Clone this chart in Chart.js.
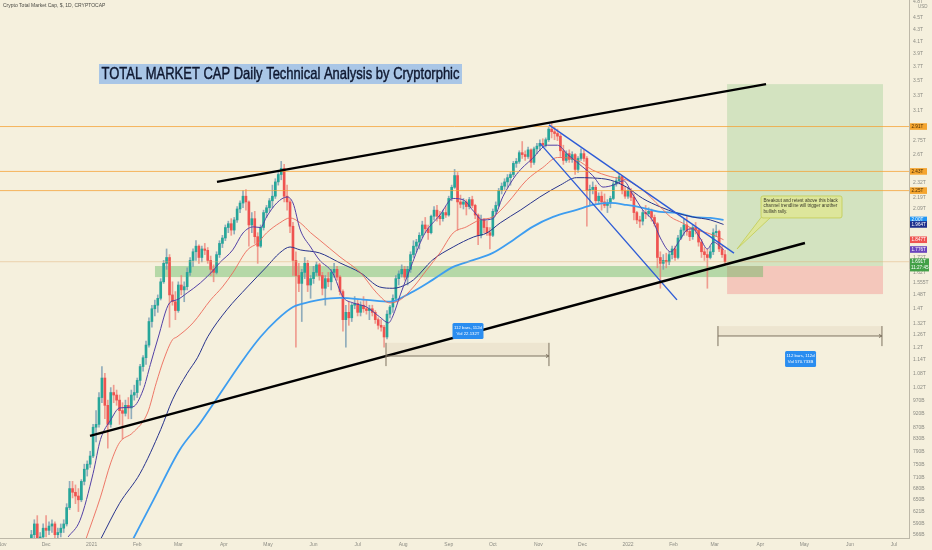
<!DOCTYPE html>
<html>
<head>
<meta charset="utf-8">
<title>TOTAL MARKET CAP Daily Technical Analysis by Cryptorphic</title>
<script src="https://cdn.jsdelivr.net/npm/chart.js@4.4.1/dist/chart.umd.min.js"></script>
<style>
  html, body { margin: 0; padding: 0; background: #f5f0dd; }
  canvas { display: block; }
</style>
</head>
<body>
<canvas id="chart" width="932" height="550"></canvas>
<script>
// TOTAL crypto market cap, one candle per 2 days, values in billions of USD
// day numbers count from 1 Nov 2020
const firstDay = 20
const dayStep = 2

const opens = [
  540, 565, 590, 545, 560, 580, 575, 585, 590, 565,
  570, 580, 590, 630, 680, 670, 660, 650, 700, 735,
  750, 775, 870, 880, 980, 1060, 950, 880, 1000, 990,
  970, 930, 920, 950, 940, 990, 1000, 1050, 1110, 1150,
  1210, 1330, 1400, 1420, 1460, 1560, 1680, 1720, 1480, 1440,
  1390, 1540, 1510, 1530, 1620, 1700, 1760, 1800, 1720, 1780,
  1770, 1700, 1640, 1620, 1740, 1820, 1860, 1940, 1970, 1920,
  2000, 2090, 2140, 2200, 2150, 1960, 2010, 1870, 1800, 1940,
  2060, 2100, 2160, 2200, 2330, 2400, 2460, 2200, 2150, 1950,
  1700, 1600, 1550, 1620, 1680, 1540, 1580, 1620, 1670, 1600,
  1520, 1580, 1560, 1620, 1640, 1590, 1500, 1340, 1380, 1350,
  1420, 1430, 1380, 1420, 1400, 1390, 1400, 1380, 1340, 1310,
  1300, 1250, 1370, 1410, 1460, 1580, 1610, 1640, 1590, 1640,
  1740, 1800, 1830, 1880, 1960, 1930, 1900, 2030, 2080, 2030,
  2010, 2060, 2040, 2180, 2280, 2390, 2150, 2130, 2150, 2110,
  2170, 2120, 2040, 1880, 2000, 1940, 1900, 1880, 2070, 2120,
  2250, 2290, 2330, 2370, 2400, 2510, 2530, 2620, 2600, 2580,
  2650, 2520, 2660, 2690, 2720, 2700, 2760, 2880, 2850, 2830,
  2800, 2640, 2540, 2610, 2550, 2600, 2450, 2560, 2610, 2560,
  2250, 2260, 2280, 2160, 2200, 2150, 2120, 2140, 2180, 2310,
  2340, 2380, 2250, 2200, 2250, 2190, 2060, 2000, 1990, 2060,
  2050, 2070, 2020, 1970, 1720, 1680, 1700, 1690, 1740, 1780,
  1720, 1860, 1920, 1960, 1910, 1870, 1940, 1920, 1830, 1760,
  1740, 1720, 1760, 1900, 1910, 1780, 1740
]
const highs = [
  575, 600, 610, 570, 590, 610, 595, 600, 595, 580,
  590, 600, 640, 700, 700, 690, 680, 705, 750, 760,
  790, 880, 930, 1000, 1110, 1080, 970, 1020, 1030, 1010,
  990, 960, 970, 980, 1010, 1030, 1060, 1120, 1160, 1230,
  1350, 1420, 1450, 1480, 1580, 1700, 1780, 1740, 1560, 1500,
  1560, 1600, 1560, 1650, 1720, 1780, 1840, 1810, 1800, 1820,
  1790, 1730, 1670, 1760, 1840, 1880, 1960, 1990, 2010, 2020,
  2110, 2160, 2250, 2260, 2160, 2060, 2070, 1900, 1960, 2080,
  2120, 2180, 2300, 2360, 2420, 2530, 2500, 2300, 2170, 1980,
  1760, 1680, 1640, 1720, 1700, 1600, 1660, 1690, 1680, 1620,
  1600, 1620, 1640, 1680, 1660, 1600, 1510, 1420, 1440, 1430,
  1470, 1450, 1440, 1470, 1450, 1420, 1420, 1390, 1350, 1340,
  1310, 1390, 1420, 1480, 1600, 1630, 1670, 1660, 1660, 1760,
  1840, 1850, 1900, 1990, 2020, 1960, 2040, 2110, 2120, 2070,
  2080, 2110, 2200, 2300, 2450, 2420, 2210, 2180, 2170, 2190,
  2200, 2130, 2050, 2040, 2010, 1990, 1940, 2090, 2150, 2270,
  2320, 2360, 2400, 2420, 2530, 2560, 2640, 2740, 2640, 2680,
  2660, 2680, 2720, 2760, 2770, 2780, 2900, 2960, 2900, 2880,
  2820, 2700, 2640, 2650, 2630, 2610, 2580, 2660, 2650, 2580,
  2300, 2330, 2300, 2230, 2240, 2220, 2170, 2200, 2330, 2370,
  2410, 2390, 2290, 2280, 2270, 2220, 2070, 2030, 2080, 2120,
  2100, 2090, 2040, 1980, 1760, 1740, 1750, 1760, 1800, 1800,
  1880, 1940, 2010, 2030, 1940, 1960, 1980, 1930, 1850, 1790,
  1780, 1800, 1930, 1960, 1920, 1800, 1770
]
const lows = [
  530, 555, 530, 520, 550, 560, 565, 570, 555, 545,
  560, 570, 585, 625, 655, 640, 620, 645, 690, 715,
  740, 770, 820, 870, 960, 900, 800, 870, 960, 950,
  880, 830, 910, 900, 900, 970, 980, 1030, 1090, 1120,
  1200, 1300, 1360, 1380, 1450, 1550, 1640, 1300, 1420, 1340,
  1380, 1480, 1440, 1510, 1600, 1660, 1700, 1680, 1690, 1740,
  1680, 1600, 1560, 1610, 1720, 1790, 1840, 1900, 1880, 1890,
  1980, 2060, 2100, 2080, 1800, 1900, 1820, 1680, 1790, 1920,
  2020, 2070, 2100, 2180, 2300, 2350, 2150, 2080, 1900, 1600,
  1200, 1500, 1330, 1580, 1500, 1460, 1550, 1600, 1570, 1480,
  1420, 1530, 1510, 1590, 1570, 1480, 1280, 1200, 1310, 1330,
  1400, 1360, 1360, 1380, 1370, 1340, 1360, 1320, 1290, 1280,
  1200, 1240, 1350, 1380, 1440, 1540, 1590, 1570, 1540, 1620,
  1720, 1760, 1780, 1860, 1900, 1850, 1890, 2000, 1990, 1960,
  1990, 2020, 2030, 2160, 2270, 1920, 2100, 2090, 2040, 2090,
  2100, 2010, 1810, 1860, 1900, 1880, 1780, 1870, 2050, 2110,
  2220, 2260, 2280, 2300, 2380, 2470, 2510, 2560, 2540, 2560,
  2470, 2500, 2610, 2640, 2680, 2680, 2740, 2780, 2760, 2750,
  2580, 2500, 2520, 2520, 2520, 2400, 2420, 2540, 2530, 1950,
  2120, 2220, 2130, 2130, 2080, 2100, 2060, 2100, 2170, 2290,
  2310, 2220, 2180, 2180, 2160, 2000, 1970, 1940, 1960, 2010,
  2030, 1990, 1950, 1650, 1520, 1640, 1650, 1670, 1710, 1700,
  1710, 1850, 1880, 1880, 1840, 1850, 1890, 1800, 1720, 1700,
  1520, 1710, 1740, 1870, 1760, 1720, 1680
]
const closes = [
  565, 590, 545, 560, 580, 575, 585, 590, 565, 570,
  580, 590, 630, 680, 670, 660, 650, 700, 735, 750,
  775, 870, 880, 980, 1060, 950, 880, 1000, 990, 970,
  930, 920, 950, 940, 990, 1000, 1050, 1110, 1150, 1210,
  1330, 1400, 1420, 1460, 1560, 1680, 1720, 1480, 1440, 1390,
  1540, 1510, 1530, 1620, 1700, 1760, 1800, 1720, 1780, 1770,
  1700, 1640, 1620, 1740, 1820, 1860, 1940, 1970, 1920, 2000,
  2090, 2140, 2200, 2150, 1960, 2010, 1870, 1800, 1940, 2060,
  2100, 2160, 2200, 2330, 2400, 2460, 2200, 2150, 1950, 1700,
  1600, 1550, 1620, 1680, 1540, 1580, 1620, 1670, 1600, 1520,
  1580, 1560, 1620, 1640, 1590, 1500, 1340, 1380, 1350, 1420,
  1430, 1380, 1420, 1400, 1390, 1400, 1380, 1340, 1310, 1300,
  1250, 1370, 1410, 1460, 1580, 1610, 1640, 1590, 1640, 1740,
  1800, 1830, 1880, 1960, 1930, 1900, 2030, 2080, 2030, 2010,
  2060, 2040, 2180, 2280, 2390, 2150, 2130, 2150, 2110, 2170,
  2120, 2040, 1880, 2000, 1940, 1900, 1880, 2070, 2120, 2250,
  2290, 2330, 2370, 2400, 2510, 2530, 2620, 2600, 2580, 2650,
  2520, 2660, 2690, 2720, 2700, 2760, 2880, 2850, 2830, 2800,
  2640, 2540, 2610, 2550, 2600, 2450, 2560, 2610, 2560, 2250,
  2260, 2280, 2160, 2200, 2150, 2120, 2140, 2180, 2310, 2340,
  2380, 2250, 2200, 2250, 2190, 2060, 2000, 1990, 2060, 2050,
  2070, 2020, 1970, 1720, 1680, 1700, 1690, 1740, 1780, 1720,
  1860, 1920, 1960, 1910, 1870, 1940, 1920, 1830, 1760, 1740,
  1720, 1760, 1900, 1910, 1780, 1740, 1691
]
const candleDays = closes.map((_, i) => firstDay + i * dayStep)

// moving averages (day, value)
const maFastDays = [45, 53, 62, 67, 74, 80, 89, 96, 101, 106, 114, 119, 126, 135, 144, 148, 157, 164, 171, 176, 180, 187, 194, 198, 203, 210, 216, 225, 232, 239, 248, 257, 263, 266, 271, 278, 287, 298, 307, 314, 321, 327, 334, 341, 350, 361, 371, 378, 385, 393, 402, 409, 416, 423, 429, 436, 443, 448, 455, 461, 466, 470, 475, 480, 484, 491]
const maFastValues = [560, 598, 723, 828, 896, 940, 944, 1010, 1120, 1240, 1433, 1451, 1492, 1553, 1636, 1683, 1773, 1898, 1945, 1940, 2024, 2141, 2193, 2141, 1921, 1794, 1703, 1617, 1468, 1433, 1410, 1355, 1323, 1360, 1480, 1650, 1880, 2040, 2180, 2167, 2070, 2000, 2010, 2200, 2400, 2560, 2700, 2700, 2600, 2500, 2390, 2282, 2300, 2340, 2220, 2082, 1990, 1860, 1760, 1840, 1920, 1930, 1860, 1780, 1830, 1776]

const maMidDays = [57, 67, 74, 80, 89, 99, 105, 110, 116, 119, 130, 142, 150, 157, 167, 174, 180, 189, 196, 203, 210, 216, 230, 244, 255, 264, 271, 280, 289, 298, 307, 316, 325, 334, 344, 357, 368, 378, 391, 402, 414, 425, 436, 448, 455, 463, 470, 480, 487, 491]
const maMidValues = [554, 657, 754, 818, 851, 921, 1040, 1140, 1236, 1250, 1323, 1451, 1528, 1617, 1773, 1823, 1898, 1976, 2016, 1976, 1900, 1846, 1724, 1617, 1492, 1433, 1451, 1528, 1636, 1752, 1898, 1945, 2000, 2024, 2141, 2347, 2468, 2570, 2544, 2443, 2380, 2347, 2255, 2107, 2024, 1976, 1930, 1898, 1868, 1847]

const maSlowDays = [67, 80, 94, 108, 116, 126, 133, 140, 153, 167, 180, 189, 196, 203, 216, 230, 244, 257, 266, 271, 280, 293, 307, 321, 330, 339, 353, 366, 380, 391, 402, 414, 425, 436, 448, 459, 470, 482, 491]
const maSlowValues = [554, 641, 723, 862, 971, 1080, 1150, 1251, 1394, 1528, 1656, 1752, 1794, 1773, 1752, 1683, 1617, 1528, 1520, 1528, 1572, 1703, 1794, 1868, 1898, 1976, 2082, 2193, 2301, 2370, 2367, 2347, 2282, 2180, 2107, 2057, 2024, 2000, 1964]

const ma200Days = [89, 103, 121, 135, 164, 176, 187, 198, 210, 216, 230, 248, 264, 278, 293, 307, 321, 334, 348, 361, 375, 391, 402, 414, 425, 436, 448, 459, 470, 482, 491]
const ma200Values = [554, 649, 795, 886, 1140, 1251, 1339, 1410, 1440, 1451, 1462, 1451, 1440, 1492, 1572, 1656, 1703, 1752, 1846, 1945, 2024, 2082, 2124, 2141, 2124, 2100, 2065, 2057, 2024, 2016, 2000]

// price axis ticks
const yTickValues = [4800, 4500, 4300, 4100, 3900, 3700, 3500, 3300, 3100, 2750, 2600, 2320, 2190, 2090, 1720, 1620, 1555, 1480, 1400, 1320, 1260, 1200, 1140, 1080, 1020, 970, 920, 870, 830, 790, 750, 710, 680, 650, 621, 590, 566]
const yTickLabels = ['4.8T', '4.5T', '4.3T', '4.1T', '3.9T', '3.7T', '3.5T', '3.3T', '3.1T', '2.75T', '2.6T', '2.32T', '2.19T', '2.09T', '1.72T', '1.62T', '1.555T', '1.48T', '1.4T', '1.32T', '1.26T', '1.2T', '1.14T', '1.08T', '1.02T', '970B', '920B', '870B', '830B', '790B', '750B', '710B', '680B', '650B', '621B', '590B', '566B']

// month ticks
const monthDays = [0, 30, 61, 92, 120, 151, 181, 212, 242, 273, 304, 334, 365, 395, 426, 457, 485, 516, 546, 577, 607]
const monthLabels = ['Nov', 'Dec', '2021', 'Feb', 'Mar', 'Apr', 'May', 'Jun', 'Jul', 'Aug', 'Sep', 'Oct', 'Nov', 'Dec', '2022', 'Feb', 'Mar', 'Apr', 'May', 'Jun', 'Jul']

// horizontal levels
const levelValues = [2910, 2430, 2250]
const levelLabels = ['2.91T', '2.43T', '2.25T']
const lastPrice = 1691

// drawings (day, value)
const upperChannelDays = [146.3, 519.9]
const upperChannelValues = [2330, 3450]
const lowerChannelDays = [59.9, 546.4]
const lowerChannelValues = [840, 1823]
const wedgeTopDays = [372.2, 498.1]
const wedgeTopValues = [2930, 1750]
const wedgeBottomDays = [366.1, 459.3]
const wedgeBottomValues = [2720, 1451]

const supportZone = { days: [104.1, 517.9], values: [1590, 1662] }
const longBox = { from: 493.4, to: 599.5, target: 3450, entry: 1662, stop: 1485 }
const measures = [
  { from: 261.3, to: 372.2, line: 1158, top: 1221, bottom: 1112, labelDay: 317.1, labelValue: 1280, text: ['112 bars, 112d', 'Vol 22.132T'] },
  { from: 487.2, to: 598.8, line: 1255, top: 1306, bottom: 1205, labelDay: 543.4, labelValue: 1144, text: ['112 bars, 112d', 'Vol 570.733B'] }
]
const callout = {
  day: 516.5, value: 2202, tipDay: 500.2, tipValue: 1780,
  text: ['Breakout and retest above this black', 'channel trendline will trigger another', 'bullish rally.']
}
const title = { day: 66, value: 3741, text: 'TOTAL MARKET CAP Daily Technical Analysis by Cryptorphic' }
const header = 'Crypto Total Market Cap, $, 1D, CRYPTOCAP'

const xMin = -1.36
const xMax = 617.2
const yMin = 557.6
const yMax = 4837

const UP = '#26a69a'
const DOWN = '#ef5350'
const FONT = '"Liberation Sans", Arial, sans-serif'

const isUp = i => closes[i] >= opens[i]
const pts = (days, values) => days.map((d, i) => ({ x: d, y: values[i] }))

const maLine = (label, days, values, color, width, order) => ({
  type: 'line', label, data: pts(days, values), borderColor: color, borderWidth: width,
  pointRadius: 0, tension: 0.4, cubicInterpolationMode: 'monotone', order
})
const straight = (label, days, values, color, width, order) => ({
  type: 'line', label, data: pts(days, values), borderColor: color, borderWidth: width,
  pointRadius: 0, tension: 0, order
})

function zone(chart, d0, d1, v0, v1, color) {
  const { x, y } = chart.scales
  const x0 = x.getPixelForValue(d0), x1 = x.getPixelForValue(d1)
  const y0 = y.getPixelForValue(v1), y1 = y.getPixelForValue(v0)
  chart.ctx.fillStyle = color
  chart.ctx.fillRect(x0, y0, x1 - x0, y1 - y0)
}

function roundRect(ctx, x, y, w, h, r) {
  ctx.beginPath()
  ctx.moveTo(x + r, y)
  ctx.arcTo(x + w, y, x + w, y + h, r)
  ctx.arcTo(x + w, y + h, x, y + h, r)
  ctx.arcTo(x, y + h, x, y, r)
  ctx.arcTo(x, y, x + w, y, r)
  ctx.closePath()
}

const drawings = {
  id: 'drawings',
  beforeDatasetsDraw(chart) {
    const { ctx, chartArea: a } = chart
    ctx.save()
    ctx.beginPath()
    ctx.rect(a.left, a.top, a.right - a.left, a.bottom - a.top)
    ctx.clip()
    zone(chart, longBox.from, longBox.to, longBox.entry, longBox.target, 'rgba(76,175,80,0.2)')
    zone(chart, longBox.from, longBox.to, longBox.stop, longBox.entry, 'rgba(242,54,69,0.22)')
    zone(chart, supportZone.days[0], supportZone.days[1], supportZone.values[0], supportZone.values[1], 'rgba(76,175,80,0.38)')
    measures.forEach(m => zone(chart, m.from, m.to, m.line, m.top, 'rgba(170,140,100,0.1)'))
    ctx.restore()
  },
  afterDatasetsDraw(chart) {
    const { ctx, scales: { x, y } } = chart
    ctx.save()

    // date range measurements
    measures.forEach(m => {
      const x0 = x.getPixelForValue(m.from), x1 = x.getPixelForValue(m.to)
      const yl = y.getPixelForValue(m.line)
      const yt = y.getPixelForValue(m.top), yb = y.getPixelForValue(m.bottom)
      ctx.strokeStyle = '#7d7260'
      ctx.lineWidth = 1
      ctx.beginPath()
      ctx.moveTo(x0, yl); ctx.lineTo(x1, yl)
      ctx.moveTo(x0, yt); ctx.lineTo(x0, yb)
      ctx.moveTo(x1, yt); ctx.lineTo(x1, yb)
      ctx.moveTo(x1 - 3, yl - 1.5); ctx.lineTo(x1, yl); ctx.lineTo(x1 - 3, yl + 1.5)
      ctx.stroke()
      const bx = x.getPixelForValue(m.labelDay), by = y.getPixelForValue(m.labelValue)
      ctx.fillStyle = '#2a8df0'
      roundRect(ctx, bx - 15.5, by - 8, 31, 16, 1.5)
      ctx.fill()
      ctx.fillStyle = '#ffffff'
      ctx.font = '4.3px ' + FONT
      ctx.textAlign = 'center'
      ctx.textBaseline = 'middle'
      ctx.fillText(m.text[0], bx, by - 3)
      ctx.fillText(m.text[1], bx, by + 3)
    })

    // callout
    const cx = x.getPixelForValue(callout.day), cy = y.getPixelForValue(callout.value)
    const tx = x.getPixelForValue(callout.tipDay), ty = y.getPixelForValue(callout.tipValue)
    ctx.fillStyle = '#dde69b'
    ctx.strokeStyle = '#c2cc52'
    ctx.lineWidth = 0.8
    ctx.beginPath()
    ctx.moveTo(cx + 2, cy + 19); ctx.lineTo(tx, ty); ctx.lineTo(cx + 9, cy + 22)
    ctx.closePath()
    ctx.fill(); ctx.stroke()
    roundRect(ctx, cx, cy, 81, 22, 2)
    ctx.fill(); ctx.stroke()
    ctx.fillStyle = '#3b3b2c'
    ctx.font = '4.6px ' + FONT
    ctx.textAlign = 'left'
    ctx.textBaseline = 'middle'
    callout.text.forEach((t, i) => ctx.fillText(t, cx + 2.5, cy + 4.5 + i * 5.5))

    // title
    const ttx = x.getPixelForValue(title.day), tty = y.getPixelForValue(title.value)
    ctx.fillStyle = '#a9c6e6'
    ctx.fillRect(ttx, tty, 363, 20)
    ctx.font = '17px "Liberation Sans Narrow", ' + FONT
    const w = ctx.measureText(title.text).width
    ctx.translate(ttx + 2.5, tty + 10.5)
    ctx.scale(Math.min(1, 358 / w), 1)
    ctx.fillStyle = '#0f1830'
    ctx.strokeStyle = '#0f1830'
    ctx.lineWidth = 0.45
    ctx.textAlign = 'left'
    ctx.textBaseline = 'middle'
    ctx.fillText(title.text, 0, 0)
    ctx.strokeText(title.text, 0, 0)
    ctx.restore()

    ctx.save()
    ctx.fillStyle = '#4a4a44'
    ctx.font = '5px ' + FONT
    ctx.textBaseline = 'middle'
    ctx.fillText(header, 3, 6)
    ctx.restore()
  },
  afterDraw(chart) {
    const { ctx, chartArea: a, scales: { y } } = chart
    const tags = [
      ...levelValues.map((v, i) => ({ value: v, text: levelLabels[i], bg: '#f5a52f', fg: '#4a2d00' })),
      { value: ma200Values[ma200Values.length - 1], text: '2.00T', bg: '#2196f3', fg: '#fff' },
      { value: maSlowValues[maSlowValues.length - 1], text: '1.964T', bg: '#1f2f8c', fg: '#fff' },
      { value: maMidValues[maMidValues.length - 1], text: '1.847T', bg: '#ef5350', fg: '#fff' },
      { value: maFastValues[maFastValues.length - 1], text: '1.776T', bg: '#6a44bd', fg: '#fff' }
    ]
    ctx.save()
    ctx.font = '4.6px ' + FONT
    ctx.textBaseline = 'middle'
    ctx.textAlign = 'left'
    tags.forEach(t => {
      const yy = y.getPixelForValue(t.value)
      ctx.fillStyle = t.bg
      ctx.fillRect(a.right + 1, yy - 3.3, 17, 6.6)
      ctx.fillStyle = t.fg
      ctx.fillText(t.text, a.right + 2.5, yy)
    })
    const yp = y.getPixelForValue(lastPrice)
    ctx.fillStyle = '#43a047'
    ctx.fillRect(a.right + 1, yp - 3.3, 19, 13)
    ctx.fillStyle = '#fff'
    ctx.fillText('1.691T', a.right + 2.5, yp)
    ctx.fillText('11:27:45', a.right + 2, yp + 6)
    ctx.fillStyle = '#8c8c84'
    ctx.font = '4.5px ' + FONT
    ctx.fillText('USD', a.right + 9, 6.5)
    ctx.restore()
  }
}

Chart.defaults.font.family = FONT

new Chart(document.getElementById('chart'), {
  data: {
    datasets: [
      {
        type: 'bar', label: 'wicks',
        data: candleDays.map((d, i) => ({ x: d, y: [lows[i], highs[i]] })),
        backgroundColor: c => isUp(c.dataIndex) ? 'rgba(110,150,175,0.75)' : 'rgba(236,120,110,0.7)',
        barThickness: 1, grouped: false, order: 11
      },
      {
        type: 'bar', label: 'bodies',
        data: candleDays.map((d, i) => ({ x: d, y: [opens[i], closes[i]] })),
        backgroundColor: c => isUp(c.dataIndex) ? UP : DOWN,
        barThickness: 2, minBarLength: 1, grouped: false, order: 10
      },
      maLine('MA 200', ma200Days, ma200Values, '#3d9df0', 1.8, 9),
      maLine('MA slow', maSlowDays, maSlowValues, '#27338c', 1, 8),
      maLine('MA mid', maMidDays, maMidValues, '#ec6a5a', 0.9, 7),
      maLine('MA fast', maFastDays, maFastValues, '#5240a6', 1, 6),
      ...levelValues.map(v => straight('level', [xMin, xMax], [v, v], 'rgba(245,160,50,0.75)', 1, 5)),
      straight('last price', [xMin, xMax], [lastPrice, lastPrice], 'rgba(225,170,110,0.45)', 1, 5),
      straight('wedge top', wedgeTopDays, wedgeTopValues, '#2d5bd6', 1.4, 3),
      straight('wedge bottom', wedgeBottomDays, wedgeBottomValues, '#2d5bd6', 1.4, 3),
      straight('channel top', upperChannelDays, upperChannelValues, '#000000', 2.4, 2),
      straight('channel bottom', lowerChannelDays, lowerChannelValues, '#000000', 2.4, 2)
    ]
  },
  options: {
    responsive: false,
    animation: false,
    events: [],
    layout: { padding: 0, autoPadding: false },
    plugins: { legend: { display: false }, tooltip: { enabled: false } },
    scales: {
      x: {
        type: 'linear', min: xMin, max: xMax, offset: false,
        grid: { display: false, drawTicks: false, offset: false },
        border: { display: true, color: '#bdb8a8' },
        ticks: {
          autoSkip: false, maxRotation: 0, padding: 4, color: '#8c8c84',
          font: { size: 5 },
          callback: (v, i) => monthLabels[i]
        },
        afterBuildTicks: s => { s.ticks = monthDays.map(v => ({ value: v })) },
        afterFit: s => { s.height = 12; s.paddingLeft = 0; s.paddingRight = 0 }
      },
      y: {
        type: 'logarithmic', position: 'right', min: yMin, max: yMax,
        grid: { display: false, drawTicks: false },
        border: { display: true, color: '#bdb8a8' },
        ticks: {
          autoSkip: false, padding: 4, color: '#8c8c84',
          font: { size: 5 },
          callback: (v, i) => yTickLabels[i]
        },
        afterBuildTicks: s => { s.ticks = yTickValues.map(v => ({ value: v })) },
        afterFit: s => { s.width = 23; s.paddingTop = 0; s.paddingBottom = 0 }
      }
    }
  },
  plugins: [drawings]
})
</script>
</body>
</html>
